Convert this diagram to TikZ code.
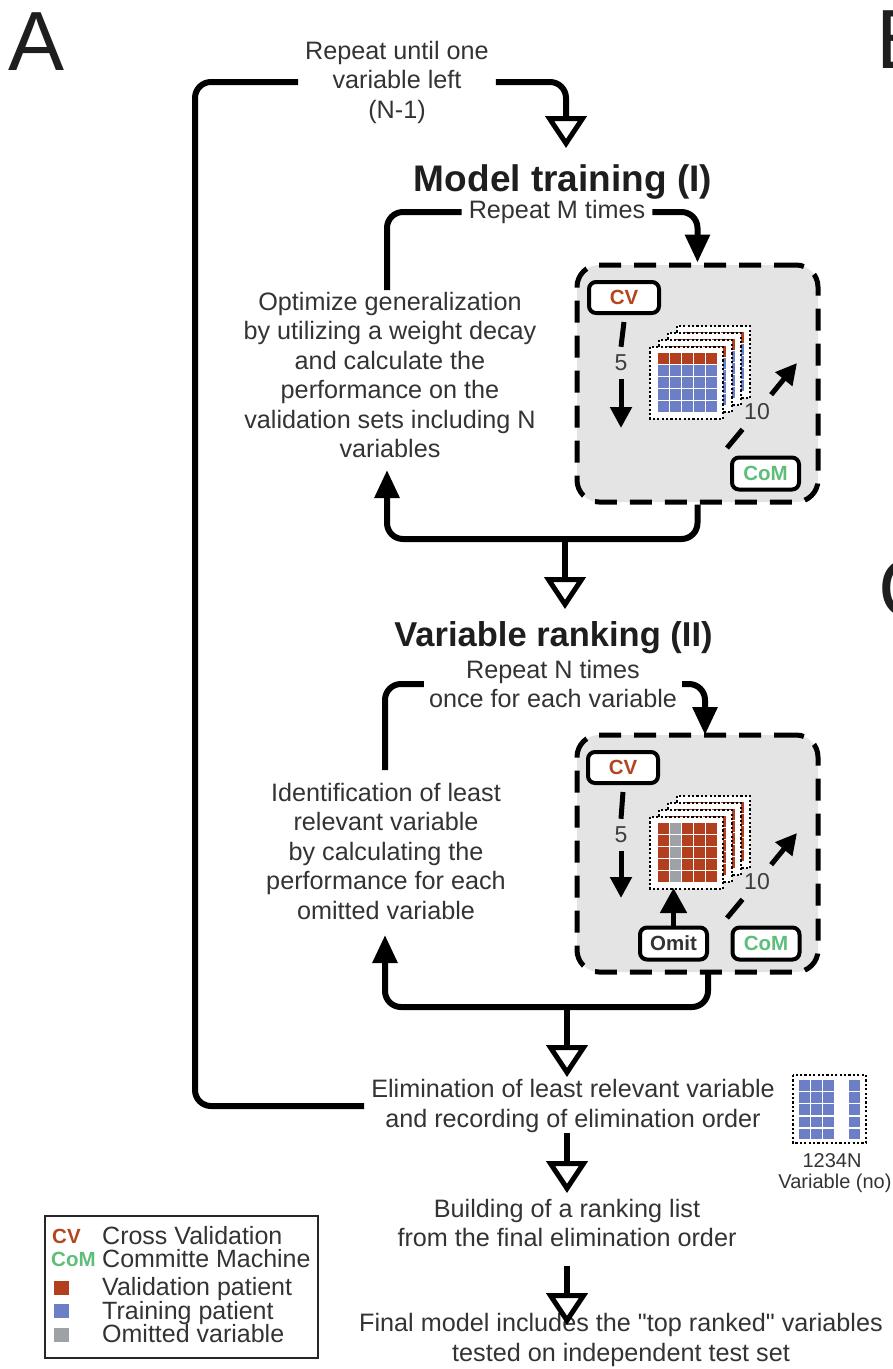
\documentclass[tikz,border=0pt]{standalone}
\usepackage{fontspec}
\setmainfont{Liberation Sans}
\usetikzlibrary{arrows.meta}

\definecolor{txt}{HTML}{333333}
\definecolor{head}{HTML}{1E1E1E}
\definecolor{cnt}{HTML}{3D3D3D}
\definecolor{valred}{HTML}{B2401E}
\definecolor{trblue}{HTML}{6C7EC6}
\definecolor{omgray}{HTML}{9EA1A6}
\definecolor{cvred}{HTML}{B5451F}
\definecolor{comgreen}{HTML}{5DBE7A}
\definecolor{boxfill}{HTML}{E4E4E4}

% straight double quote, taken directly from the font
\newcommand\sdq{\XeTeXglyph\XeTeXglyphindex "quotedbl"\relax}

\tikzset{
  body/.style={font=\fontsize{25.2}{29.5}\selectfont, text=txt, align=center, inner sep=7pt},
  heading/.style={font=\fontsize{37}{40}\selectfont\bfseries, text=head, inner sep=0pt, anchor=base},
  conn/.style={draw=black, line width=6pt, rounded corners=16pt},
  hollow/.style={-{Triangle[fill=white, length=32pt, width=41pt, line width=5pt]}},
  solidtip/.style={-{Triangle[length=28pt, width=24pt]}},
  stagebox/.style={draw=black, fill=boxfill, line width=5pt, dash pattern=on 22pt off 13pt,
    rounded corners=22pt, minimum width=241pt, minimum height=237pt, inner sep=0pt},
  tag/.style={draw=black, fill=white, line width=4pt, rounded corners=7pt, minimum width=67pt,
    minimum height=32pt, inner sep=0pt, font=\fontsize{20.5}{20.5}\selectfont\bfseries},
  dline/.style={draw=black, line width=5pt},
  smalltip/.style={-{Triangle[length=21pt, width=21pt]}},
  bigtip/.style={-{Triangle[length=25pt, width=26pt]}},
  countlbl/.style={font=\fontsize{23}{23}\selectfont, text=cnt, inner sep=8pt},
  panel/.style={font=\fontsize{84}{84}\selectfont, text=head, inner sep=0pt, anchor=base west},
  legtext/.style={font=\fontsize{25}{25}\selectfont, text=txt, inner sep=0pt, anchor=base west},
  legtag/.style={font=\fontsize{20.5}{20.5}\selectfont\bfseries, inner sep=0pt, anchor=base west},
  legsq/.style={minimum width=15pt, minimum height=14pt, inner sep=0pt},
  small/.style={font=\fontsize{20}{22}\selectfont, text=txt, inner sep=0pt},
  dots/.style={draw=black, line width=1.8pt, dash pattern=on 2.2pt off 2.2pt},
}

% one sheet of the 5x5 patient/variable matrix; #3: 0 = training, 1 = plain red, 2 = red with omitted column
\newcommand\celllayer[3]{%
  \fill[white] (#1,#2) rectangle ++(73,72);
  \foreach \r in {0,...,4}{%
    \foreach \c in {0,...,4}{%
      \ifcase#3\relax
        \ifnum\r=0 \def\cellcol{valred}\else\def\cellcol{trblue}\fi
      \or \def\cellcol{valred}%
      \or \ifnum\c=1 \def\cellcol{omgray}\else\def\cellcol{valred}\fi
      \fi
      \fill[\cellcol] ({#1+8+12*\c},{#2+6+12*\r}) rectangle ++(10.5,10.5);
    }%
  }%
  \draw[dots] (#1,#2) rectangle ++(73,72);
}

\begin{document}
\begin{tikzpicture}[x=1pt,y=-1pt]
\useasboundingbox (0,0) rectangle (893,1369);

% panel letters
\node[panel] (pa) at (8,70) {A};
\node[panel] (pb) at (876,68) {B};
\node[panel] (pc) at (878,617) {C};

% ---------- texts ----------
\node[body] (rep1) at (397,82) {Repeat until one\\variable left\\(N-1)};
\node[heading] (title1) at (563,191) {Model training (I)};
\node[body] (rep2) at (557,212) {Repeat M times};
\node[body] (opt) at (390,375) {Optimize generalization\\by utilizing a weight decay\\and calculate the\\performance on the\\validation sets including N\\variables};

\node[heading, font=\fontsize{34.5}{40}\selectfont\bfseries] (title2) at (553.5,646) {Variable ranking (II)};
\node[body, inner sep=5pt] (rep3) at (553,684) {Repeat N times\\once for each variable};
\node[body] (ident) at (386,851) {Identification of least\\relevant variable\\by calculating the\\performance for each\\omitted variable};

\node[body] (elim) at (573,1106) {Elimination of least relevant variable\\and recording of elimination order};
\node[body] (build) at (567,1223) {Building of a ranking list\\from the final elimination order};
\node[body] (final) at (621,1340) {Final model includes the \sdq top ranked\sdq{} variables\\tested on independent test set};

% ---------- stage I box ----------
\node[stagebox] (trainbox) at (697.5,383.5) {};
\node[tag, text=cvred, minimum width=70pt, minimum height=31pt] (cv1) at (624,297.5) {CV};
\node[countlbl] (five1) at (621,363) {5};
\coordinate (cvtip1) at (621,428);
\draw[dline] ([yshift=-7pt]cv1.south) -- (five1.north);
\draw[dline, smalltip] (five1.south) -- (cvtip1);
\celllayer{677}{326}{0}
\celllayer{668}{333}{0}
\celllayer{659}{340}{0}
\celllayer{650}{347}{0}
\coordinate (dstart1) at (727,448);
\coordinate (dtip1) at (797,363);
\node[countlbl, inner sep=9pt] (ten1) at (757,412) {10};
\draw[dline] (dstart1) -- (ten1);
\draw[dline, smalltip] (ten1) -- (dtip1);
\node[tag, text=comgreen] (com1) at (765.5,473.5) {CoM};

% ---------- stage II box ----------
\node[stagebox] (rankbox) at (697.5,853.5) {};
\node[tag, text=cvred, minimum width=70pt, minimum height=31pt] (cv2) at (623,767.5) {CV};
\node[countlbl] (five2) at (621,835) {5};
\coordinate (cvtip2) at (621,898);
\draw[dline] ([yshift=-7pt]cv2.south) -- (five2.north);
\draw[dline, smalltip] (five2.south) -- (cvtip2);
\celllayer{677}{796}{1}
\celllayer{668}{803}{1}
\celllayer{659}{810}{1}
\celllayer{650}{817}{2}
\coordinate (dstart2) at (727,918);
\coordinate (dtip2) at (797,833);
\node[countlbl, inner sep=9pt] (ten2) at (757,882) {10};
\draw[dline] (dstart2) -- (ten2);
\draw[dline, smalltip] (ten2) -- (dtip2);
\node[tag, text=comgreen] (com2) at (766,943.5) {CoM};
\node[tag, text=txt] (omit) at (673.5,943.5) {Omit};
\coordinate (omittip) at (673.5,888);
\draw[dline, bigtip] (omit.north) -- (omittip);

% ---------- connectors ----------
\coordinate (outerx) at (195,0);
\draw[conn] (elim.west) -| (rep1.west -| outerx) -- (rep1.west);
\coordinate (t1tip) at (566,148);
\draw[conn, hollow] (rep1.east) -| (t1tip);

\coordinate (optjoin) at (387,290);
\draw[conn] (optjoin) |- (rep2.west);
\draw[conn, solidtip] (rep2.east) -| (trainbox.north);

\coordinate (j1) at (565,539);
\coordinate (fb1) at (387,470);
\draw[conn, solidtip] (trainbox.south) |- (j1) -| (fb1);
\coordinate (t2tip) at (565,609);
\draw[conn, hollow] (j1) -- (t2tip);

\coordinate (identjoin) at (385,770);
\draw[conn] (identjoin) |- (rep3.west);
\coordinate (rankin) at (705,735);
\draw[conn, solidtip] (rep3.east) -| (rankin);

\coordinate (rankout) at (708,972);
\coordinate (j2) at (567,1007);
\coordinate (fb2) at (385,935);
\draw[conn, solidtip] (rankout) |- (j2) -| (fb2);
\coordinate (elimtip) at (567,1077);
\draw[conn, hollow] (j2) -- (elimtip);

\coordinate (elimout) at (567,1133);
\coordinate (buildtip) at (567,1193);
\draw[conn, hollow] (elimout) -- (buildtip);
\coordinate (buildout) at (567,1266);
\coordinate (finaltip) at (567,1325);
\draw[conn, hollow] (buildout) -- (finaltip);

% ---------- variable numbering sketch ----------
\draw[dots] (793,1075) rectangle (866,1143);
\foreach \r in {0,...,4}{%
  \foreach \cx in {799,811,823,849}{%
    \fill[trblue] (\cx,{1080+12.2*\r}) rectangle ++(10.5,10.5);
  }%
}
\node[small] (varnums) at (832,1161) {1234N};
\node[small] (varlbl) at (835,1183) {Variable (no)};

% ---------- legend ----------
\node[draw=black!85, line width=1.6pt, minimum width=273pt, minimum height=142pt, inner sep=0pt] (legend) at (181.5,1287) {};
\node[legtag, text=cvred] (lcv) at (52,1243) {CV};
\node[legtext] (lcvt) at (102,1244) {Cross Validation};
\node[legtag, text=comgreen] (lcom) at (51,1266) {CoM};
\node[legtext] (lcomt) at (102,1267) {Committe Machine};
\node[legsq, fill=valred] (lval) at (61.5,1288) {};
\node[legtext] (lvalt) at (102,1295) {Validation patient};
\node[legsq, fill=trblue] (ltr) at (61.5,1311) {};
\node[legtext] (ltrt) at (102,1319) {Training patient};
\node[legsq, fill=omgray] (lom) at (61.5,1335) {};
\node[legtext] (lomt) at (102,1342) {Omitted variable};
\end{tikzpicture}
\end{document}
